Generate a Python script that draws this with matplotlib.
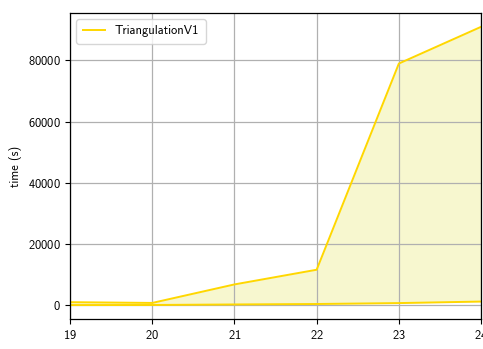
import matplotlib
matplotlib.use("Agg")
import matplotlib.pyplot as plt

plt.rcParams['font.family'] = ['cmss10', 'DejaVu Sans']
plt.rcParams['axes.formatter.use_mathtext'] = True

sizes = [19, 20, 21, 22, 23, 24]
t_max = [1000, 750, 6800, 11600, 79000, 91000]
t_min = [50, 80, 250, 400, 700, 1200]

fig = plt.figure(figsize=(4.83, 3.49), dpi=100)
ax = fig.add_axes([0.145, 0.086, 0.851, 0.877])

ax.fill_between(sizes, t_min, t_max, color='#f0f0a0', alpha=0.5, lw=0)
ax.plot(sizes, t_max, color='gold', lw=1.4, label='TriangulationV1')
ax.plot(sizes, t_min, color='gold', lw=1.4)

ax.set_xlim(19, 24)
ax.set_xticks(sizes)
ax.set_yticks([0, 20000, 40000, 60000, 80000])
ax.grid(True, color='#b0b0b0', lw=0.9)
ax.tick_params(labelsize=9, length=3.5, width=0.8)
for s in ax.spines.values():
    s.set_linewidth(0.9)

ax.set_xlabel('instance size', fontsize=9, labelpad=5)
ax.set_ylabel('time (s)', fontsize=9, labelpad=4)
ax.legend(loc='upper left', fontsize=9, framealpha=0.8, borderpad=0.5,
          borderaxespad=0.5, handlelength=1.8)

fig.savefig('out.png', dpi=100)
